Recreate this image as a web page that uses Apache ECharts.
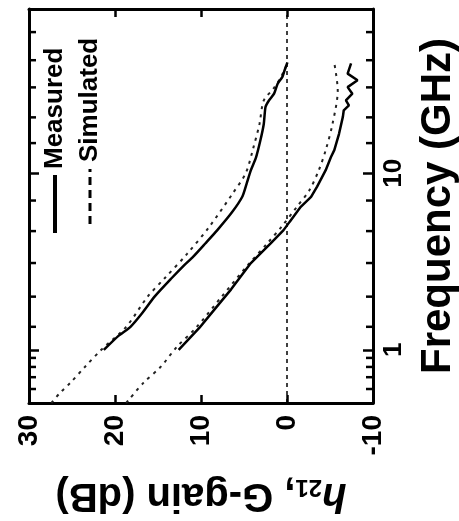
<!DOCTYPE html>
<html>
<head>
<meta charset="utf-8">
<script src="https://cdn.jsdelivr.net/npm/echarts@6/dist/echarts.min.js"></script>
<style>
  html, body { margin: 0; padding: 0; background: #fff; }
  #main { width: 459px; height: 521px; }
</style>
</head>
<body>
<div id="main"></div>
<script>
// 频率 (GHz) 与增益 (dB) 数据
var freqGSim = [0.5, 0.57, 0.65, 0.8, 1.0, 1.35, 2.0, 2.55, 3.5, 5.0, 7.7, 10, 14, 19, 25.8, 30, 35, 42];
var gSim     = [27.4, 26.4, 25.2, 23.5, 21.6, 18.7, 16.2, 14.2, 11.6, 9.0, 6.3, 4.8, 3.9, 3.2, 2.7, 1.6, 0.7, -0.05];

var freqGMeas = [1.0, 1.2, 1.35, 1.6, 2.0, 2.55, 3.0, 3.37, 4.0, 4.76, 6.0, 7.35, 8.7, 10.4, 12.3, 15.3, 19, 23.7, 25.8, 28.2, 32, 35, 38, 42.4];
var gMeas     = [21.3, 19.6, 18.2, 16.9, 15.4, 13.4, 12.0, 10.9, 9.5, 8.1, 6.4, 5.2, 4.7, 4.2, 3.6, 3.1, 2.7, 2.5, 2.1, 1.5, 1.1, 0.55, 0.3, -0.05];

var freqHSim = [0.5, 0.65, 0.8, 1.04, 1.33, 2.0, 3.0, 4.0, 5.0, 6.5, 8.0, 10.4, 13.5, 19.1, 29.4, 42];
var hSim     = [18.7, 16.7, 14.7, 12.8, 10.6, 7.6, 4.6, 2.3, 0.6, -1.2, -2.6, -3.7, -4.5, -5.3, -5.9, -5.5];

var freqHMeas = [1.0, 1.33, 1.7, 2.2, 3.1, 4.0, 4.76, 5.3, 6.45, 7.35, 8.4, 10.4, 12.3, 13.5, 16.7, 20.9, 22.7, 24.2, 25.8, 28.2, 30.7, 33.6, 36.6, 41.8];
var hMeas     = [12.6, 10.2, 8.4, 6.5, 4.2, 1.9, 0.4, -0.3, -1.6, -2.8, -3.5, -4.5, -5.1, -5.5, -6.05, -6.5, -6.6, -7.2, -6.85, -7.6, -7.05, -8.2, -7.05, -7.45];

// 刻度
var gainTicks = [-10, 0, 10, 20, 30];
var freqMin = 0.5, freqMax = 85;
var freqMinorTicks = [0.6, 0.7, 0.8, 0.9, 1.35, 2, 3.1, 4.7, 7, 14.8, 20.7, 30.6, 43.6, 62.9];
var legendNames = ['Measured', 'Simulated'];

function pairs(fs, vs) {
    // 旋转后的图: x 为增益, y 为频率
    return fs.map(function (f, i) { return [vs[i], f]; });
}

var font = '"Liberation Sans", Arial, sans-serif';
var solid = { color: '#000', width: 2.5, type: 'solid' };
var dashed = { color: '#222', width: 2, type: [3, 5] };

function freqAxis(pos, withLabel) {
    var ax = {
        type: 'log',
        logBase: 10,
        min: freqMin,
        max: freqMax,
        position: pos,
        splitLine: { show: false },
        axisLine: { show: true, onZero: false, lineStyle: { color: '#000', width: 3 } },
        axisTick: { show: true, inside: true, length: 10, lineStyle: { color: '#000', width: 2.5 } },
        axisLabel: { show: false }
    };
    if (withLabel) {
        ax.axisLabel = { show: true, rotate: 90, fontSize: 26, fontWeight: 'bold', color: '#000', margin: 8,
            fontFamily: font, showMinLabel: false, showMaxLabel: false };
        ax.name = 'Frequency (GHz)';
        ax.nameLocation = 'middle';
        ax.nameRotate = 90;
        ax.nameGap = 44;
        ax.nameTextStyle = { fontSize: 42, fontWeight: 'bold', color: '#000', fontFamily: font };
    }
    return ax;
}

function gainAxis(pos) {
    return {
        type: 'value',
        min: gainTicks[0],
        max: gainTicks[gainTicks.length - 1],
        interval: 10,
        inverse: true,
        position: pos,
        splitLine: { show: false },
        axisLine: { show: true, onZero: false, lineStyle: { color: '#000', width: 3 } },
        axisTick: { show: true, inside: true, length: 8, lineStyle: { color: '#000', width: 2.5 } },
        axisLabel: { show: false }
    };
}

// 次刻度: 用小矩形贴在左右边框内侧
function minorTickSeries(edge, dx) {
    return {
        type: 'scatter',
        silent: true,
        clip: false,
        z: 5,
        symbol: 'rect',
        symbolSize: [7, 2.5],
        symbolOffset: [dx, 0],
        itemStyle: { color: '#000', opacity: 1 },
        data: freqMinorTicks.map(function (f) { return [edge, f]; })
    };
}

var bottomAxis = gainAxis('bottom');
bottomAxis.axisLabel = { show: true, rotate: 90, fontSize: 28, fontWeight: 'bold', color: '#000', margin: 12, fontFamily: font };
bottomAxis.name = '{i|h}{sub|21}{n|, G-gain (dB)}';
bottomAxis.nameLocation = 'middle';
bottomAxis.nameRotate = 180;
bottomAxis.nameGap = 72;
bottomAxis.nameTextStyle = {
    rich: {
        i: { fontSize: 40, fontStyle: 'italic', fontWeight: 'bold', color: '#000', fontFamily: font, lineHeight: 46, verticalAlign: 'bottom' },
        sub: { fontSize: 24, fontWeight: 'bold', color: '#000', fontFamily: font, lineHeight: 46, verticalAlign: 'bottom' },
        n: { fontSize: 40, fontWeight: 'bold', color: '#000', fontFamily: font, lineHeight: 46, verticalAlign: 'bottom' }
    }
};

var myChart = echarts.init(document.getElementById('main'));

var option = {
    animation: false,
    backgroundColor: '#fff',
    textStyle: { fontFamily: font },
    grid: { left: 29, right: 86, top: 9, bottom: 118, outerBoundsMode: 'none', containLabel: false },
    xAxis: [bottomAxis, gainAxis('top')],
    yAxis: [
        freqAxis('right', true),
        freqAxis('left', false)
    ],
    graphic: [{
        type: 'group', x: 55, y: 233, rotation: Math.PI / 2,
        children: [
            { type: 'line', shape: { x1: 0, y1: 0, x2: 58, y2: 0 }, style: { stroke: '#000', lineWidth: 4 } },
            { type: 'text', x: 64, y: 0, style: { text: legendNames[0], font: 'bold 26px ' + font, fill: '#000', verticalAlign: 'middle' } }
        ]
    }, {
        type: 'group', x: 90, y: 224, rotation: Math.PI / 2,
        children: [
            { type: 'line', shape: { x1: 0, y1: 0, x2: 55, y2: 0 }, style: { stroke: '#000', lineWidth: 3, lineDash: [8, 5] } },
            { type: 'text', x: 62, y: 0, style: { text: legendNames[1], font: 'bold 26px ' + font, fill: '#000', verticalAlign: 'middle' } }
        ]
    }],
    series: [{
        name: 'G Simulated',
        type: 'line',
        showSymbol: false,
        smooth: 0.3,
        lineStyle: dashed,
        data: pairs(freqGSim, gSim),
        markLine: {
            silent: true,
            symbol: 'none',
            label: { show: false },
            lineStyle: { color: '#000', width: 1.5, type: [4, 4] },
            data: [{ xAxis: 0 }]
        }
    }, {
        name: 'G Measured',
        type: 'line',
        showSymbol: false,
        smooth: 0.2,
        lineStyle: solid,
        data: pairs(freqGMeas, gMeas)
    }, {
        name: 'h21 Simulated',
        type: 'line',
        showSymbol: false,
        smooth: 0.3,
        lineStyle: dashed,
        data: pairs(freqHSim, hSim)
    }, {
        name: 'h21 Measured',
        type: 'line',
        showSymbol: false,
        lineStyle: solid,
        data: pairs(freqHMeas, hMeas)
    },
    minorTickSeries(gainTicks[gainTicks.length - 1], 3.5),
    minorTickSeries(gainTicks[0], -3.5)]
};

myChart.setOption(option);
</script>
</body>
</html>
